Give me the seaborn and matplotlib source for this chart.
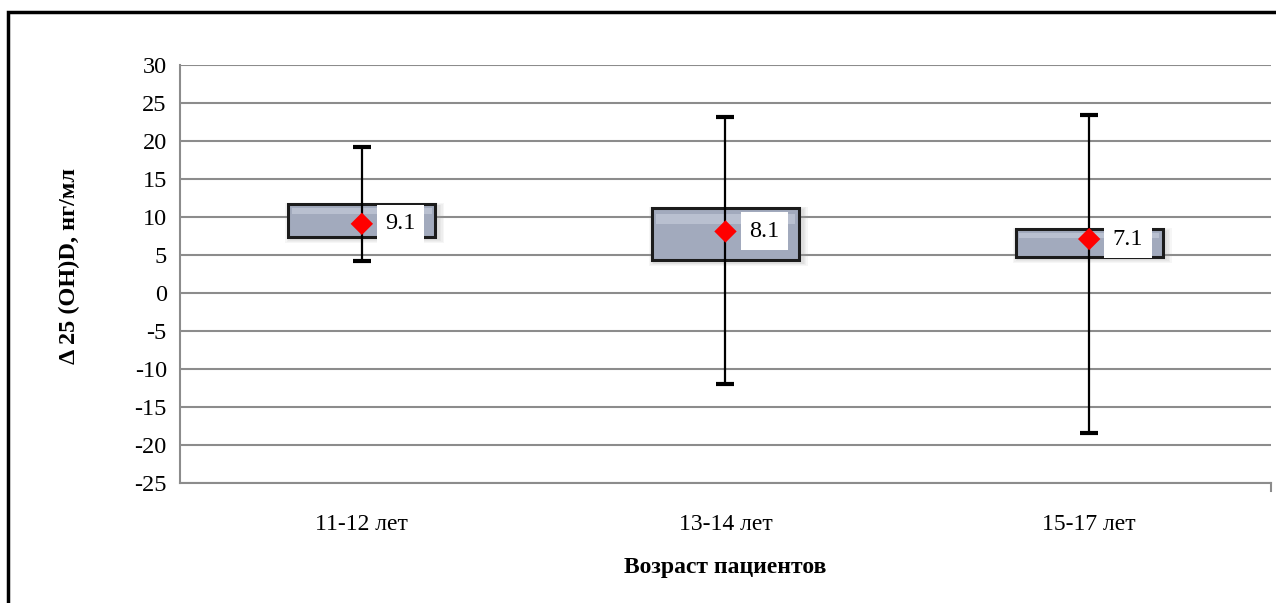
import matplotlib
matplotlib.use("Agg")
import matplotlib.pyplot as plt
import matplotlib.patches as mpatches
import seaborn as sns
import pandas as pd
import numpy as np

categories = ["11-12 лет", "13-14 лет", "15-17 лет"]
medians = [9.1, 8.1, 7.1]
q1 = [7.4, 4.3, 4.7]
q3 = [11.7, 11.2, 8.4]
whisker_low = [4.2, -12.0, -18.4]
whisker_high = [19.2, 23.2, 23.4]
median_labels = ["9.1", "8.1", "7.1"]
yticks = list(range(-25, 31, 5))

sns.set_theme(style="white")
plt.rcParams['font.family'] = ['Liberation Serif', 'DejaVu Serif']
plt.rcParams['text.color'] = 'black'
plt.rcParams['xtick.color'] = 'black'
plt.rcParams['ytick.color'] = 'black'
plt.rcParams['axes.labelcolor'] = 'black'

fig = plt.figure(figsize=(12.76, 6.03), dpi=100)
ax = fig.add_axes([180/1276, 1-483/603, (1271-180)/1276, (483-65)/603])

df = pd.DataFrame({"cat": categories, "median": medians, "q1": q1, "q3": q3,
                   "lo": whisker_low, "hi": whisker_high})
xpos = np.arange(len(categories))

ax.set_ylim(-25, 30)
ax.set_xlim(-0.5, len(categories) - 0.5)
ax.set_yticks(yticks)
ax.yaxis.grid(True, color="#8c8c8c", linewidth=1.5, zorder=0)
ax.set_axisbelow(True)

# boxes (soft shadow, body, bevel)
bw = 0.405
for i in xpos:
    h = df.q3[i] - df.q1[i]
    for k in range(4):
        gx = 0.004 * (k + 1)
        gy = 0.12 * (k + 1)
        ax.bar(i + 0.008, h + 2 * gy, width=bw + 2 * gx, bottom=df.q1[i] - 0.3 - gy,
               color="#a0a0a0", alpha=0.09, zorder=2, linewidth=0)
    ax.bar(i, h, width=bw, bottom=df.q1[i],
           color="#a2aabd", edgecolor="#1c1c1c", linewidth=2.2, zorder=3)
    ax.bar(i, h * 0.18, width=bw * 0.95, bottom=df.q3[i] - h * 0.3,
           color="#b9c0d0", linewidth=0, zorder=3.5)

# whiskers
ax.errorbar(xpos, df["median"],
            yerr=[df["median"] - df.lo, df.hi - df["median"]],
            fmt="none", ecolor="black", elinewidth=1.6, capsize=6.5,
            capthick=3, zorder=4)

# medians
sns.scatterplot(data=df, x=xpos, y="median", marker="D", color="#ff0000",
                s=130, edgecolor="none", ax=ax, zorder=5, legend=False)

for i, lab in zip(xpos, median_labels):
    ax.annotate(lab, (i, medians[i]), xytext=(17, 0), textcoords="offset points",
                ha="left", va="center", fontsize=17.5, color="black", zorder=6,
                bbox=dict(boxstyle="square,pad=0.35", fc="white", ec="none"))

for s in ["top", "right"]:
    ax.spines[s].set_visible(False)
for s in ["left", "bottom"]:
    ax.spines[s].set_color("#8c8c8c")
    ax.spines[s].set_linewidth(1.5)
ax.spines["right"].set_visible(True)
ax.spines["right"].set_color("#8c8c8c")
ax.spines["right"].set_linewidth(1.5)
ax.spines["right"].set_bounds(-25, -26.0)

ax.set_xticks(xpos)
ax.set_xticklabels(categories, fontsize=17)
ax.set_xticks([0.5, 1.5, 2.5], minor=True)
ax.tick_params(axis="x", which="major", length=0, pad=22)
ax.tick_params(axis="x", which="minor", length=6, width=1.5, color="#8c8c8c")
ax.tick_params(axis="y", length=8, width=1.5, color="#8c8c8c", labelcolor="black",
               labelsize=17.5, pad=1.5)
ax.set_yticklabels([str(t) for t in yticks])

ax.set_xlabel("Возраст пациентов", fontsize=17, fontweight="bold", labelpad=16)
ax.set_ylabel("Δ 25 (OH)D, нг/мл", fontsize=17.5, fontweight="bold")
ax.yaxis.set_label_coords(-0.092, 0.52)

fig.patches.append(mpatches.Rectangle((8/1276, -0.05), 1.1, 1 - 12/603 + 0.05,
                                      transform=fig.transFigure, fill=False,
                                      edgecolor="black", linewidth=2.5))

fig.savefig("out.png", dpi=100)
